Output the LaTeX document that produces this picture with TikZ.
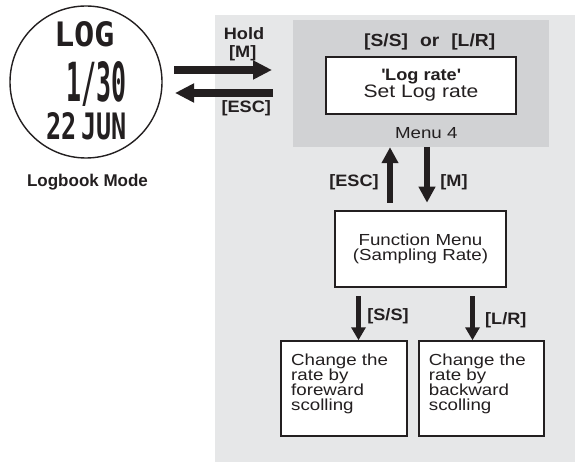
\documentclass[tikz,border=0pt]{standalone}
\usepackage{fontspec}
\setmainfont{Liberation Sans}
\newfontfamily\wreg[FakeStretch=1.17]{Liberation Sans}
\newfontfamily\wbold[FakeStretch=1.1]{Liberation Sans Bold}
\newfontfamily\plainbold{Liberation Sans Bold}
\newfontfamily\lcdfont{DejaVu Sans Mono Bold}
\usetikzlibrary{arrows.meta}
\definecolor{panel}{HTML}{E6E7E8}
\definecolor{menugray}{HTML}{D1D2D4}
\definecolor{ink}{HTML}{231F20}
\tikzset{
  harrow/.style={draw=ink, line width=7.5pt, -{Triangle[length=19pt,width=18pt]}},
  varrow/.style={draw=ink, line width=6.5pt, -{Triangle[length=16pt,width=16pt]}},
  sarrow/.style={draw=ink, line width=4.5pt, -{Triangle[length=13pt,width=14pt]}},
  box/.style={draw=ink, line width=1.5pt, fill=white, inner sep=0pt},
  blabel/.style={font=\wbold\fontsize{16.5}{16.5}\selectfont, text=ink, inner sep=0pt, anchor=base},
  rlabel/.style={font=\wreg\fontsize{16}{15.3}\selectfont, text=ink, inner sep=0pt},
  lcd/.style={font=\lcdfont, text=ink, inner sep=0pt, anchor=base}
}
\begin{document}
\begin{tikzpicture}[x=1pt,y=-1pt]
\useasboundingbox (0,0) rectangle (575,462);
\fill[white] (0,0) rectangle (575,462);
% panel
\fill[panel] (215,15) rectangle (575,462);
% watch
\node[circle, draw=ink, line width=1.4pt, minimum size=152pt, inner sep=0pt] (watch) at (86,82) {};
\node[lcd] (lcdlog) at (84.7,47) {\resizebox{61pt}{25pt}{LOG}};
\node[lcd] (lcdnum) at (96.7,102) {\resizebox{60pt}{40pt}{1/30}};
\node[lcd] (lcddate) at (86.7,140) {\resizebox{80pt}{27pt}{22\,JUN}};
\node[font=\plainbold\fontsize{17}{17}\selectfont, text=ink, inner sep=0pt, anchor=base] (mode) at (87.5,186.5) {Logbook Mode};
% menu 4 block
\node[fill=menugray, minimum width=256pt, minimum height=127pt, inner sep=0pt] (menu) at (421,83.5) {};
\node[blabel, font=\wbold\fontsize{17.5}{17.5}\selectfont] (keys) at (429.7,46.7) {[S/S]\hspace{12pt}or\hspace{12pt}[L/R]};
\node[box, minimum width=190pt, minimum height=57pt, text=ink, align=center,
      font=\wreg\fontsize{18}{13.4}\selectfont] (lograte) at (421,85.5)
  {{\wbold\fontsize{16.5}{13.4}\selectfont \textquotesingle Log rate\textquotesingle}\\Set Log rate};
\node[rlabel, anchor=base] (menu4) at (426.3,138.3) {Menu 4};
% horizontal arrows
\coordinate (h1s) at (174,70);
\coordinate (h1e) at (272,70);
\coordinate (h2s) at (273,93);
\coordinate (h2e) at (175,93);
\draw[harrow] (h1s) -- (h1e);
\draw[harrow] (h2s) -- (h2e);
\node[blabel] (hold) at (244,40) {Hold};
\node[blabel] (holdm) at (242.7,58) {[M]};
\node[blabel] (hesc) at (246.3,113) {[ESC]};
% function menu
\node[box, minimum width=171pt, minimum height=76pt, rlabel, align=center] (func) at (420.5,249) {Function Menu\\(Sampling Rate)};
\coordinate (upb) at (390,203);
\coordinate (dnt) at (427,147);
\coordinate (dnb) at (427,202.7);
\draw[varrow] (upb) -- (upb |- menu.south);
\draw[varrow] (dnt) -- (dnb);
\node[blabel] (vesc) at (354,186.7) {[ESC]};
\node[blabel] (vm) at (454,186.7) {[M]};
% bottom boxes
\node[box, minimum width=126pt, minimum height=95pt] (fwd) at (344,388.5) {};
\node[box, minimum width=125pt, minimum height=95pt] (bwd) at (481.5,388.5) {};
\node[rlabel, anchor=base west, align=left] (fwdtxt) at (291,410.9) {Change the\\rate by\\foreward\\scolling};
\node[rlabel, anchor=base west, align=left] (bwdtxt) at (428.7,410.9) {Change the\\rate by\\backward\\scolling};
\coordinate (s1) at (358.5,296);
\coordinate (s2) at (472.5,296);
\draw[sarrow] (s1) -- (s1 |- fwd.north);
\draw[sarrow] (s2) -- (s2 |- bwd.north);
\node[blabel] (ss) at (388,320.7) {[S/S]};
\node[blabel] (lr) at (505.8,324) {[L/R]};
\end{tikzpicture}
\end{document}
